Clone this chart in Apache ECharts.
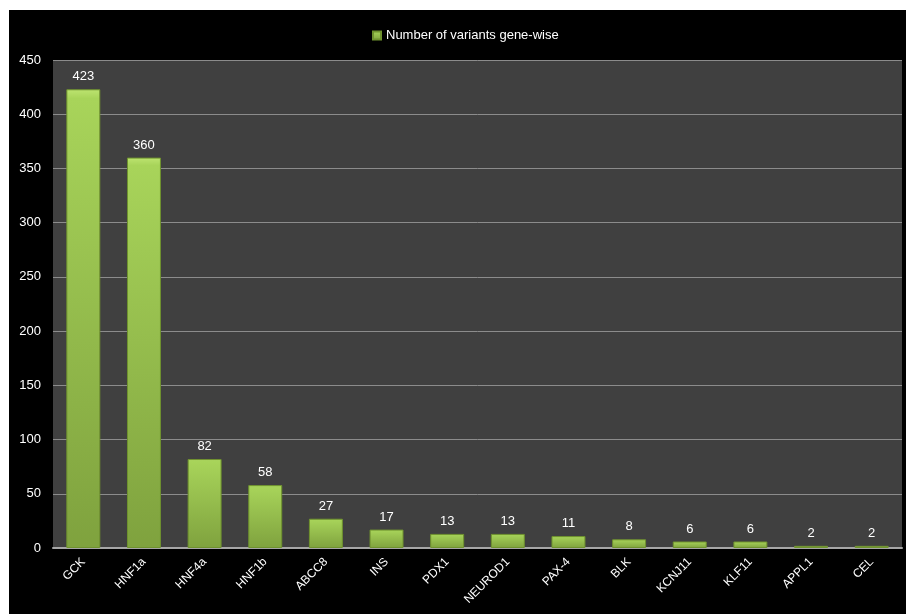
<!DOCTYPE html>
<html>
<head>
<meta charset="utf-8">
<script src="https://cdn.jsdelivr.net/npm/echarts@6/dist/echarts.min.js"></script>
<style>
  html, body { margin: 0; padding: 0; background: #ffffff; }
  #chart { position: absolute; left: 9px; top: 10px; width: 897px; height: 604px; background: #000000; }
</style>
</head>
<body>
<div id="chart"></div>
<script>
// Gene names and variant counts per gene
const genes = ['GCK', 'HNF1a', 'HNF4a', 'HNF1b', 'ABCC8', 'INS', 'PDX1', 'NEUROD1', 'PAX-4', 'BLK', 'KCNJ11', 'KLF11', 'APPL1', 'CEL'];
const variantCounts = [423, 360, 82, 58, 27, 17, 13, 13, 11, 8, 6, 6, 2, 2];
const seriesName = 'Number of variants gene-wise';

const chart = echarts.init(document.getElementById('chart'), null, { renderer: 'canvas' });
const labelFont = 'Liberation Sans, Arial, sans-serif';

chart.setOption({
  backgroundColor: '#000000',
  animation: false,
  legend: {
    top: 14,
    left: 358,
    itemWidth: 8,
    itemHeight: 8,
    itemGap: 3,
    icon: 'rect',
    textStyle: { color: '#ffffff', fontSize: 13, fontFamily: labelFont },
    data: [seriesName]
  },
  grid: {
    left: 44, right: 4, top: 50, bottom: 66,
    show: true, backgroundColor: '#404040', borderWidth: 0
  },
  xAxis: {
    type: 'category',
    data: genes,
    axisLine: { show: true, lineStyle: { color: '#a6a6a6', width: 2 } },
    axisTick: { show: false },
    axisLabel: { color: '#ffffff', rotate: 45, fontSize: 12, fontFamily: labelFont, margin: 12, interval: 0 }
  },
  yAxis: {
    type: 'value',
    min: 0, max: 450, interval: 50,
    axisLine: { show: false },
    axisTick: { show: false },
    splitLine: { lineStyle: { color: '#8c8c8c', width: 1 } },
    axisLabel: { color: '#ffffff', fontSize: 13, fontFamily: labelFont, margin: 12 }
  },
  series: [{
    name: seriesName,
    type: 'bar',
    data: variantCounts,
    barWidth: '56%',
    itemStyle: {
      color: new echarts.graphic.LinearGradient(0, 0, 0, 1, [
        { offset: 0, color: '#bde470' },
        { offset: 0.02, color: '#a8d45a' },
        { offset: 1, color: '#7fa23e' }
      ]),
      borderColor: '#6f922e',
      borderWidth: 1
    },
    label: {
      show: true,
      position: 'top',
      distance: 6,
      color: '#ffffff',
      fontSize: 13,
      fontFamily: labelFont
    }
  }]
});
</script>
</body>
</html>
